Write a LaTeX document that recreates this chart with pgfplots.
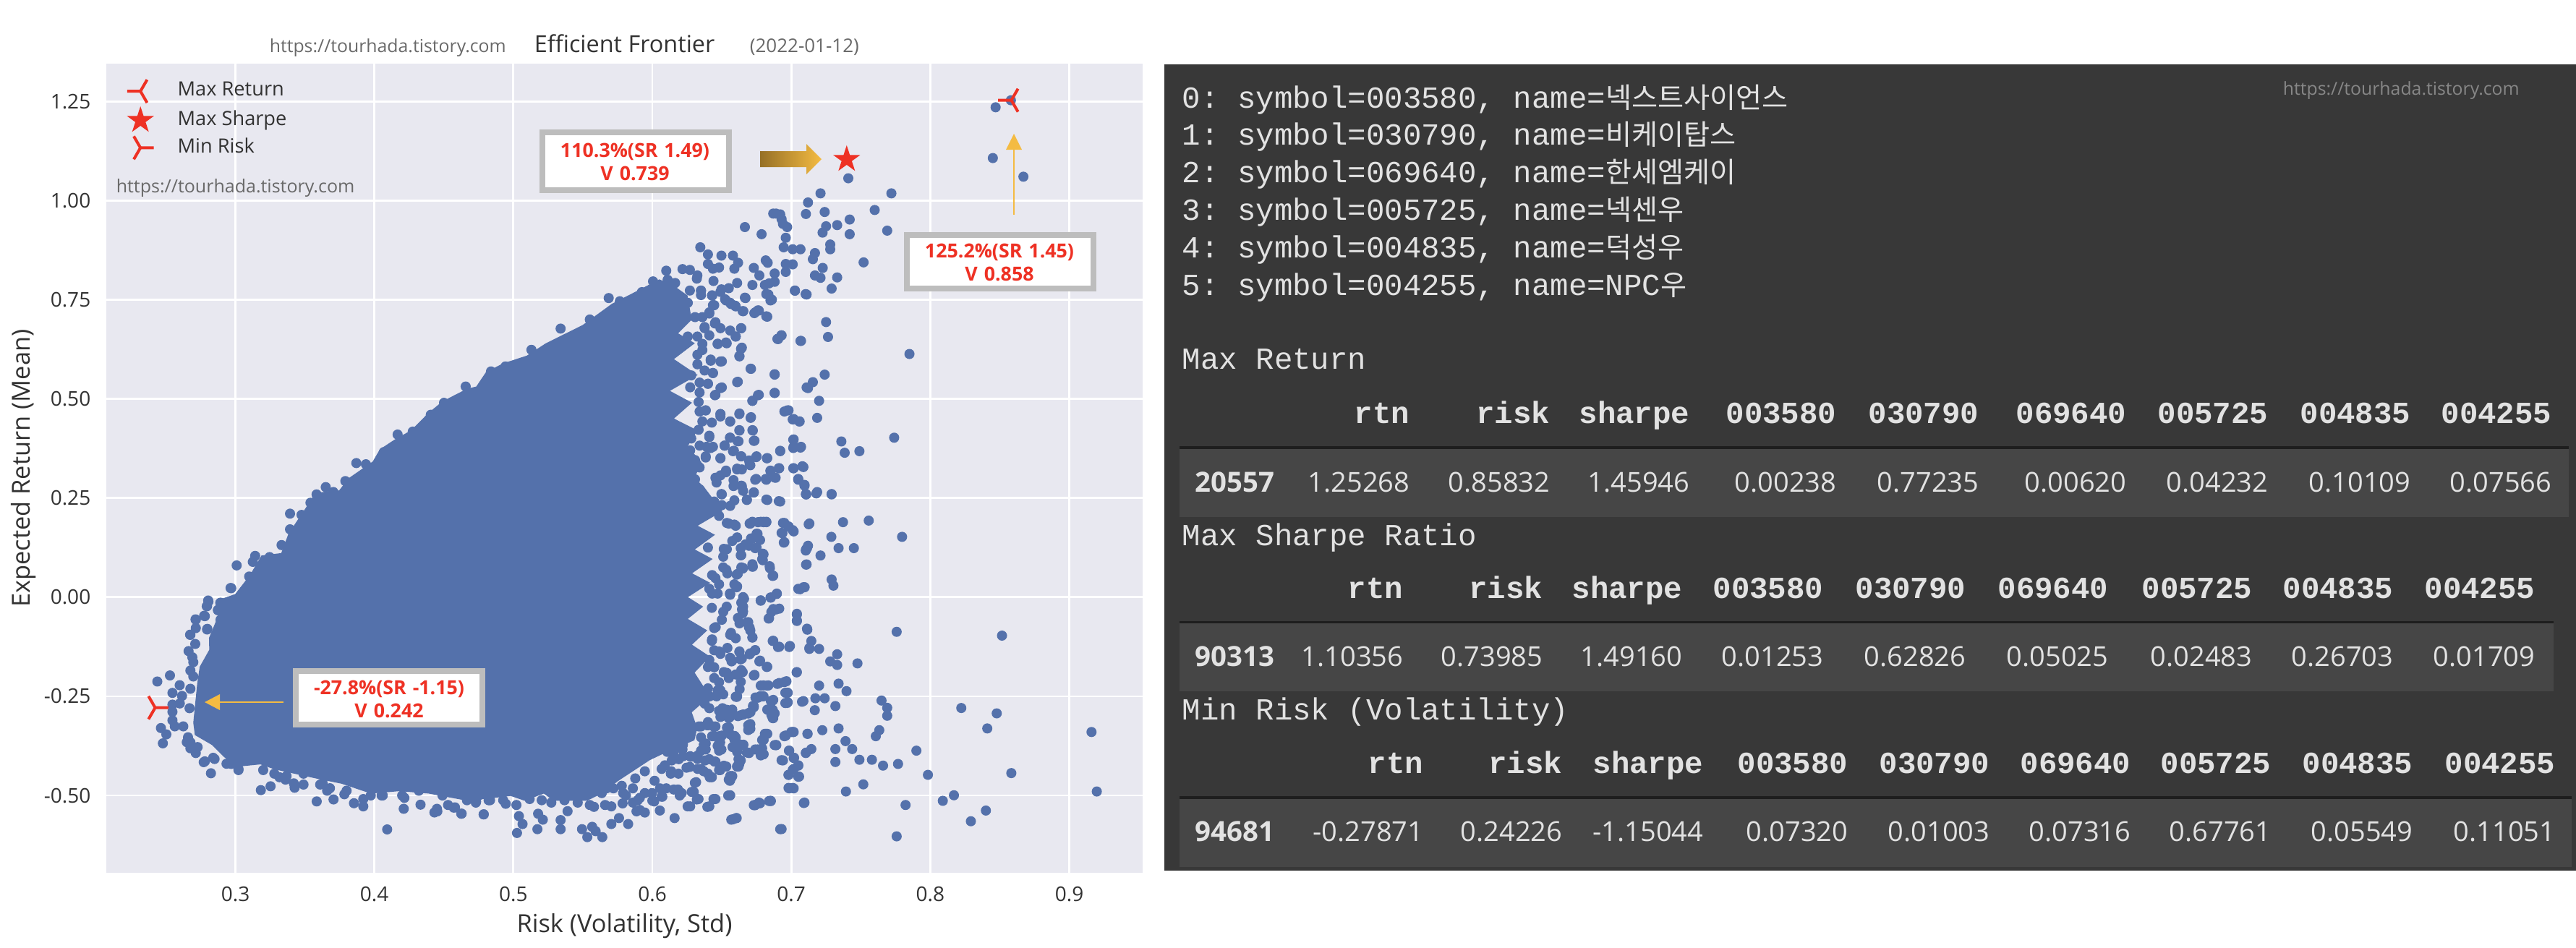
\documentclass[border=0pt]{standalone}
\usepackage{fontspec}
\usepackage{pgfplots}
\pgfplotsset{compat=1.18}
\usetikzlibrary{plotmarks}
\setmainfont{Open Sans}
\setmonofont{Liberation Mono}
\newfontfamily\kr{Noto Sans CJK KR}

\definecolor{blob}{RGB}{84,113,171}
\definecolor{panelbg}{RGB}{232,232,240}
\definecolor{mred}{RGB}{238,49,36}
\definecolor{boxgrey}{RGB}{189,189,189}
\definecolor{arrowy}{RGB}{244,187,66}
\definecolor{arrowd}{RGB}{150,112,38}
\definecolor{dark}{RGB}{56,56,56}
\definecolor{band}{RGB}{70,70,70}
\definecolor{rulec}{RGB}{30,30,30}
\definecolor{ltxt}{RGB}{226,226,226}
\definecolor{axtxt}{RGB}{50,50,50}
\definecolor{wm}{RGB}{105,105,105}

% matplotlib's tri_left and tri_right, and a filled star
\pgfdeclareplotmark{tril}{%
  \pgfpathmoveto{\pgfqpoint{0pt}{0pt}}\pgfpathlineto{\pgfpointpolar{180}{4.6pt}}
  \pgfpathmoveto{\pgfqpoint{0pt}{0pt}}\pgfpathlineto{\pgfpointpolar{60}{4.6pt}}
  \pgfpathmoveto{\pgfqpoint{0pt}{0pt}}\pgfpathlineto{\pgfpointpolar{-60}{4.6pt}}
  \pgfusepathqstroke}
\pgfdeclareplotmark{trir}{%
  \pgfpathmoveto{\pgfqpoint{0pt}{0pt}}\pgfpathlineto{\pgfpointpolar{0}{4.6pt}}
  \pgfpathmoveto{\pgfqpoint{0pt}{0pt}}\pgfpathlineto{\pgfpointpolar{120}{4.6pt}}
  \pgfpathmoveto{\pgfqpoint{0pt}{0pt}}\pgfpathlineto{\pgfpointpolar{240}{4.6pt}}
  \pgfusepathqstroke}
\pgfdeclareplotmark{fstar}{%
  \pgfpathmoveto{\pgfpointpolar{90}{4.9pt}}
  \pgfpathlineto{\pgfpointpolar{126}{1.87pt}}\pgfpathlineto{\pgfpointpolar{162}{4.9pt}}
  \pgfpathlineto{\pgfpointpolar{198}{1.87pt}}\pgfpathlineto{\pgfpointpolar{234}{4.9pt}}
  \pgfpathlineto{\pgfpointpolar{270}{1.87pt}}\pgfpathlineto{\pgfpointpolar{306}{4.9pt}}
  \pgfpathlineto{\pgfpointpolar{342}{1.87pt}}\pgfpathlineto{\pgfpointpolar{18}{4.9pt}}
  \pgfpathlineto{\pgfpointpolar{54}{1.87pt}}\pgfpathclose
  \pgfusepathqfill}

\newcommand{\annbox}[9]{% outer l,t,r,b, centre x, y1, y2, two lines
  \fill[boxgrey] (#1,#2) rectangle (#3,#4);
  \fill[white] (#1+8,#2+8) rectangle (#3-8,#4-8);
  \node[text=mred,font=\fontsize{6.7pt}{8pt}\selectfont\bfseries,inner sep=0pt] at (#5,#6) {#8};
  \node[text=mred,font=\fontsize{6.7pt}{8pt}\selectfont\bfseries,inner sep=0pt] at (#5,#7) {#9};
}
\newcommand{\krs}[1]{{\kr\fontsize{9.8pt}{12pt}\selectfont #1}}

\begin{document}
\begin{tikzpicture}
\path[use as bounding box] (0,0) rectangle (890.5pt,-327.5pt);

\begin{axis}[
  at={(36.75pt,-301.75pt)}, anchor=south west,
  scale only axis, width=358.25pt, height=279.75pt,
  xmin=0.2071, xmax=0.9528, ymin=-0.695, ymax=1.345,
  axis background/.style={fill=panelbg},
  axis line style={draw=none},
  major tick length=0pt,
  grid=major,
  grid style={white,line width=0.7pt},
  xtick={0.3,0.4,0.5,0.6,0.7,0.8,0.9},
  xticklabels={0.3,0.4,0.5,0.6,0.7,0.8,0.9},
  ytick={-0.5,-0.25,0,0.25,0.5,0.75,1,1.25},
  yticklabels={-0.50,-0.25,0.00,0.25,0.50,0.75,1.00,1.25},
  tick label style={font=\fontsize{7pt}{8pt}\selectfont,text=axtxt},
  xticklabel style={yshift=-1.3pt},
  yticklabel style={xshift=-1.9pt},
  xlabel={Risk (Volatility, Std)},
  ylabel={Expected Return (Mean)},
  label style={font=\fontsize{8.6pt}{10pt}\selectfont,text=axtxt},
  xlabel style={yshift=2.8pt},
  ylabel style={yshift=-4.2pt},
  legend style={draw=none,fill=none,at={(axis description cs:0.011,0.988)},anchor=north west,
    font=\fontsize{6.8pt}{8pt}\selectfont,text=axtxt,row sep=1.2pt,
    nodes={inner sep=0.8pt}},
  legend cell align=left,
  clip=true,
]
% solid part of the cloud
\addplot[fill=blob,draw=blob,line width=0.3pt,forget plot] coordinates {
 (.27,-.3166) (.2728,-.219) (.2746,-.176) (.2815,-.133) (.2813,-.103) (.29,-.03) (.29,-.0055) (.30,.0067)
 (.3107,.055) (.319,.104) (.3332,.11) (.3384,.159) (.3523,.232) (.3575,.262) (.3748,.268) (.3817,.299)
 (.399,.341) (.4042,.372) (.4146,.396) (.4268,.42) (.4389,.463) (.4493,.493) (.4666,.524) (.4735,.53)
 (.4804,.566) (.4925,.588) (.5099,.608) (.5235,.639) (.55,.685) (.571,.7385) (.5925,.777) (.605,.80)
 (.615,.785) (.625,.76) (.628,.70) (.618,.665) (.63,.64) (.615,.60) (.632,.56) (.612,.52) (.628,.49) (.615,.45)
 (.632,.42) (.625,.38) (.635,.34) (.63,.30) (.637,.277) (.65,.217) (.632,.18) (.6445,.157) (.63,.12) (.6428,.096)
 (.628,.06) (.641,.036) (.625,.0) (.636,-.024) (.625,-.055) (.639,-.084) (.628,-.12) (.641,-.15) (.63,-.19)
 (.641,-.25) (.628,-.29) (.632,-.33) (.63,-.36)
 (.61,-.39) (.598,-.41) (.575,-.463) (.5636,-.494) (.553,-.512) (.529,-.512)
 (.522,-.494) (.508,-.512) (.498,-.50) (.4839,-.506) (.4666,-.512) (.439,-.494) (.4182,-.488) (.3974,-.494)
 (.3766,-.4694) (.3593,-.457) (.3282,-.433) (.318,-.4205) (.3005,-.4267) (.292,-.402) (.2832,-.3716) (.2711,-.347)
} --cycle;
% scattered portfolios around it
\addplot[only marks,mark=*,mark size=1.55pt,color=blob,mark options={draw=none,fill=blob},forget plot] coordinates {
 (.858,1.2527) (.847,1.235) (.845,1.107) (.867,1.060)
 (.741,1.056) (.721,1.018) (.772,1.018) (.712,.995) (.7105,.966) (.724,.971) (.760,.976) (.742,.952) (.733,.938)
 (.725,.935) (.7225,.919) (.742,.915) (.769,.924) (.6666,.933) (.6786,.915) (.689,.967) (.687,.967) (.692,.965)
 (.693,.953) (.694,.941) (.697,.933) (.696,.906) (.6945,.882) (.701,.877) (.7066,.877) (.717,.8675) (.7155,.852)
 (.728,.889) (.728,.877) (.752,.844) (.7226,.830) (.733,.806) (.717,.811) (.721,.805) (.729,.778) (.7026,.773)
 (.7103,.764) (.696,.840) (.701,.839) (.696,.820) (.6816,.849) (.683,.843) (.673,.830) (.677,.811) (.688,.816)
 (.688,.795) (.684,.791) (.681,.787) (.672,.787) (.661,.792) (.682,.764) (.685,.748) (.6666,.755) (.682,.708)
 (.676,.723) (.6734,.716) (.6655,.721) (.660,.733) (.6566,.739) (.653,.748) (.6497,.776) (.655,.779) (.643,.761)
 (.6345,.882) (.640,.864) (.6497,.861) (.658,.861) (.6617,.843) (.659,.828) (.648,.831) (.6436,.828) (.640,.840)
 (.644,.797) (.632,.803) (.627,.825) (.635,.773) (.627,.773) (.5686,.754) (.61,.823) (.6217,.827) (.6005,.796)
 (.6164,.792) (.6324,.811)
 (.725,.6935) (.7264,.656) (.7066,.646) (.6928,.660) (.690,.651) (.785,.613) (.6638,.678) (.660,.657) (.653,.642)
 (.647,.639) (.645,.690) (.6638,.626) (.6626,.608) (.649,.594) (.642,.596) (.6707,.576) (.688,.561) (.724,.561)
 (.7155,.542) (.712,.527) (.661,.542) (.649,.527) (.645,.509) (.688,.515) (.676,.509) (.672,.495) (.720,.495)
 (.698,.471) (.695,.468) (.701,.448) (.7057,.443) (.7186,.452) (.6626,.4615) (.6707,.452) (.656,.443) (.649,.4615)
 (.6626,.421) (.672,.421) (.673,.394) (.656,.402) (.6614,.393) (.652,.382) (.658,.368) (.7014,.397) (.7014,.376)
 (.7066,.377) (.692,.368) (.736,.3925) (.7384,.364) (.749,.368) (.774,.402) (.6747,.353) (.6638,.355) (.6824,.350)
 (.670,.336) (.649,.350) (.708,.330) (.7014,.325) (.691,.325) (.685,.318) (.688,.3015) (.6816,.298) (.6747,.298)
 (.661,.324) (.705,.298) (.7095,.281) (.7105,.260) (.7186,.265) (.729,.260) (.673,.264) (.664,.281) (.646,.297) (.653,.315)
 (.6255,.742) (.6436,.736) (.641,.715) (.636,.706) (.6307,.706) (.6376,.678) (.6324,.657) (.6255,.657) (.641,.66)
 (.636,.6386) (.636,.623) (.6324,.611) (.6324,.587) (.6376,.5714) (.6436,.565) (.628,.559) (.634,.541) (.640,.538)
 (.6272,.529) (.634,.516) (.6333,.492) (.634,.468) (.6384,.471) (.6428,.44) (.636,.443) (.6333,.422) (.641,.4035)
 (.628,.40) (.642,.376) (.634,.382) (.6272,.37) (.6384,.352) (.634,.327) (.6307,.3455) (.6307,.297) (.634,.272)
 (.6272,.309) (.6497,.26)
 (.7797,.152) (.7557,.193) (.7372,.189) (.7288,.152) (.734,.1236) (.745,.1236) (.721,.105) (.7106,.1205) (.712,.1296)
 (.7106,.082) (.729,.0445) (.7303,.029) (.7063,.020) (.7096,.025) (.713,.1856) (.7106,.259) (.718,.2615) (.729,.259)
 (.691,.242) (.682,.246) (.668,.246) (.680,.189) (.676,.189) (.682,.189) (.670,.1856) (.694,.187) (.701,.169) (.698,.178)
 (.693,.162) (.6946,.1375) (.675,.160) (.671,.148) (.674,.1236) (.6795,.1096) (.6795,.093) (.6846,.073) (.6865,.0536)
 (.672,.0768) (.665,.072) (.6607,.0567) (.6607,.025) (.656,.006) (.666,-.004) (.678,-.009) (.685,-.001) (.6894,.008)
 (.6645,-.031) (.665,-.0405) (.689,-.031) (.6856,-.0375) (.6837,-.054) (.704,-.0436) (.704,-.059) (.7115,-.082)
 (.7758,-.0874) (.8516,-.097) (.668,-.0637) (.670,-.077) (.672,-.1013) (.6866,-.1105) (.6904,-.1257) (.6985,-.1257)
 (.7144,-.1105) (.713,-.1305) (.72,-.1305) (.733,-.144) (.728,-.162) (.733,-.171) (.7476,-.167) (.674,-.1336) (.670,-.144)
 (.6626,-.138) (.6635,-.157) (.677,-.162) (.6823,-.176) (.657,-.162) (.7038,-.1895) (.673,-.1975) (.695,-.214) (.690,-.2187)
 (.6827,-.223) (.678,-.223) (.72,-.223) (.734,-.218) (.7397,-.237) (.697,-.241) (.697,-.2667) (.676,-.2535) (.68,-.250)
 (.6866,-.2607) (.7173,-.255) (.724,-.255) (.7077,-.2637) (.7317,-.2746) (.7169,-.285) (.7649,-.2607) (.769,-.279)
 (.769,-.299) (.8223,-.2795) (.8478,-.293) (.841,-.331) (.916,-.340) (.7633,-.3354) (.7608,-.3506) (.734,-.331)
 (.7223,-.3354) (.7117,-.3446) (.701,-.340) (.6956,-.3495) (.682,-.3446) (.68,-.3597) (.689,-.373) (.6655,-.372)
 (.739,-.363) (.7317,-.383) (.7438,-.383) (.7144,-.383) (.7106,-.392) (.6985,-.387) (.702,-.405) (.790,-.387)
 (.7317,-.4156) (.749,-.410) (.758,-.410) (.766,-.4247) (.7768,-.4205) (.693,-.411) (.705,-.4247) (.701,-.4356)
 (.698,-.448) (.705,-.4527) (.7983,-.448) (.8583,-.4436) (.7518,-.472) (.7393,-.490) (.9198,-.490) (.701,-.481)
 (.698,-.481) (.817,-.4995) (.809,-.5135) (.7822,-.524) (.840,-.538) (.8292,-.565) (.7758,-.603) (.709,-.519)
 (.685,-.5135) (.677,-.5196) (.674,-.524) (.6607,-.557) (.658,-.560) (.693,-.5846) (.656,-.4995) (.657,-.454) (.656,-.461)
 (.6626,-.4205) (.661,-.4266) (.68,-.396) (.676,-.385) (.669,-.392) (.66,-.354) (.66,-.375) (.670,-.323) (.670,-.332)
 (.655,-.329) (.6866,-.284) (.6856,-.296) (.6866,-.305) (.673,-.2746) (.6655,-.296) (.669,-.293) (.657,-.287) (.655,-.305)
 (.6607,-.2515)
 (.6536,.187) (.659,.183) (.672,.19) (.68,.19) (.640,.125) (.6536,.121) (.667,.133) (.6775,.144) (.651,.102) (.664,.106)
 (.651,.075) (.664,.075) (.672,.083) (.643,.0556) (.648,.0324) (.659,.0324) (.656,.009) (.643,.009) (.664,-.014) (.651,-.037)
 (.6616,-.0525) (.6456,-.0756) (.656,-.095) (.6695,-.0756) (.643,-.1065) (.648,-.137) (.656,-.153) (.640,-.176) (.6536,-.191)
 (.664,-.184) (.648,-.2145) (.640,-.23) (.651,-.245) (.6377,-.2685) (.6536,-.284) (.6616,-.30) (.640,-.315) (.656,-.3457)
 (.648,-.369) (.635,-.3534) (.6217,-.384) (.6324,-.4074)
 (.4625,-.546) (.4786,-.5476) (.4453,-.54) (.4945,-.521) (.504,-.552) (.5066,-.572) (.5026,-.5945) (.5173,-.585) (.5212,-.561)
 (.5178,-.546) (.5273,-.518) (.534,-.562) (.534,-.585) (.539,-.5396) (.5494,-.585) (.5532,-.605) (.5567,-.579) (.5592,-.59)
 (.564,-.605) (.5705,-.572) (.576,-.557) (.5826,-.572) (.566,-.524) (.5705,-.5275) (.5786,-.52) (.558,-.5287) (.5886,-.54)
 (.5946,-.543) (.6,-.513) (.6054,-.538) (.616,-.557) (.6254,-.5275) (.632,-.510) (.6396,-.5287) (.644,-.509) (.6546,-.50)
 (.6568,-.561) (.6603,-.557) (.673,-.5245) (.6767,-.518) (.684,-.514) (.692,-.585) (.6283,-.491) (.6306,-.468) (.6413,-.454)
 (.637,-.439) (.6326,-.433) (.627,-.428) (.648,-.436) (.6515,-.425) (.655,-.46) (.656,-.451) (.661,-.427) (.662,-.4085)
 (.668,-.3915) (.674,-.384) (.678,-.399) (.679,-.381) (.679,-.36) (.681,-.3445) (.688,-.373) (.695,-.3506) (.70,-.34) (.6985,-.482)
 (.6275,-.4024) (.6326,-.3994) (.638,-.4116) (.6447,-.4146) (.637,-.372) (.635,-.387) (.643,-.3506) (.648,-.3506) (.647,-.375)
 (.648,-.387) (.6585,-.3537) (.6577,-.378) (.6637,-.372) (.6154,-.39) (.619,-.4085) (.622,-.372) (.648,-.2866) (.655,-.2866)
 (.649,-.302) (.6537,-.329) (.6335,-.326) (.6396,-.323) (.644,-.326) (.6637,-.2976) (.6706,-.29) (.6724,-.2744) (.669,-.323)
 (.669,-.335) (.6742,-.253) (.679,-.25) (.6853,-.262) (.6827,-.2835) (.686,-.299) (.6957,-.241) (.6957,-.267) (.66,-.251)
 (.6413,-.25) (.649,-.235) (.6628,-.232) (.6067,-.503) (.6197,-.50) (.6154,-.485) (.610,-.482) (.6016,-.463) (.5946,-.439)
 (.6136,-.439) (.6188,-.445) (.6067,-.433) (.591,-.5366) (.586,-.518) (.572,-.482) (.578,-.4756) (.581,-.50) (.5877,-.457)
 (.586,-.482) (.5895,-.512)
 (.2438,-.2127) (.2529,-.1974) (.2599,-.222) (.2547,-.2414) (.2547,-.271) (.2547,-.289) (.2547,-.3105) (.2564,-.3258) (.2625,-.3258)
 (.2464,-.33) (.2503,-.346) (.2478,-.3686) (.2659,-.3533) (.265,-.3655) (.2676,-.381) (.2715,-.393) (.2772,-.416) (.2824,-.444)
 (.284,-.405) (.2806,-.011) (.2794,-.023) (.278,-.048) (.2715,-.057) (.2715,-.078) (.2676,-.095) (.2798,-.08) (.2711,-.118)
 (.2663,-.136) (.269,-.1516) (.2697,-.164) (.2676,-.185) (.2697,-.2) (.297,.0226) (.2893,-.014) (.2875,-.032) (.2893,-.057)
 (.2676,-.231) (.2616,-.249) (.26,-.268) (.267,-.28) (.3183,-.4866) (.3253,-.4768) (.3022,-.436) (.297,-.4205) (.32,-.436)
 (.3317,-.454) (.336,-.46) (.3426,-.4804) (.342,-.4694) (.349,-.4725) (.3585,-.515) (.3706,-.51) (.361,-.4725) (.366,-.488)
 (.3784,-.497) (.3853,-.5196) (.392,-.5275) (.392,-.509) (.4052,-.50) (.4092,-.5856) (.4211,-.5336) (.4332,-.5232) (.4432,-.5428)
 (.445,-.5336) (.4571,-.5306) (.4628,-.5458) (.4732,-.5153) (.4787,-.5477) (.4822,-.512) (.4216,-.506)
 (.387,.338) (.365,.2774) (.3393,.2105) (.3332,.1313) (.3142,.104) (.3125,.089) (.3009,.08) (.2965,.023) (.4657,.531) (.4167,.4099)
 (.4068,.3656) (.3476,.2074) (.2804,-.0085) (.2796,-.0225) (.2775,-.047) (.2713,-.056) (.2796,-.0815) (.2674,-.0947)
 (.667,.754) (.6835,.763) (.686,.75) (.7026,.7726) (.711,.763) (.6523,.751) (.656,.742) (.6595,.735) (.665,.721) (.674,.718)
 (.6766,.7225) (.6827,.707) (.6445,.736) (.641,.718) (.6246,.742) (.635,.7726) (.635,.7616) (.643,.76) (.649,.7695) (.6454,.693)
 (.6376,.681) (.649,.678) (.656,.672) (.664,.678) (.66,.657) (.693,.66) (.6905,.6506) (.707,.646) (.647,.638) (.6535,.64)
 (.6644,.629) (.6627,.607) (.642,.599) (.65,.5945) (.671,.5756) (.688,.562) (.6615,.543) (.6436,.565) (.640,.538) (.65,.5287)
 (.6454,.510) (.6766,.510) (.672,.495) (.688,.5146) (.711,.5287) (.649,.4616) (.649,.4555) (.6384,.4707) (.6627,.463) (.671,.4537)
 (.656,.443) (.697,.4707) (.7017,.449) (.706,.443) (.6627,.42) (.6723,.42) (.6735,.3945) (.6558,.402) (.662,.393) (.652,.382)
 (.641,.407) (.639,.379) (.6436,.379) (.7017,.3975) (.7017,.379) (.707,.379) (.692,.369) (.6587,.369) (.664,.355) (.675,.355)
 (.649,.3506) (.6384,.355) (.6827,.3506) (.6696,.3445)
 (.6705,.3325) (.661,.322) (.6644,.322) (.653,.319) (.6454,.301) (.649,.307) (.6462,.289) (.6584,.295) (.6584,.28) (.6644,.28)
 (.6653,.268) (.674,.296) (.682,.296) (.6887,.301) (.685,.319) (.6913,.325) (.7017,.325) (.7087,.328) (.705,.296) (.7095,.283)
 (.7107,.259) (.673,.264) (.668,.245) (.6827,.245) (.692,.241) (.65,.259) (.6445,.241) (.659,.244) (.656,.23) (.65,.232)
 (.648,.205) (.655,.1855) (.66,.18) (.6705,.1855) (.678,.19) (.682,.19) (.695,.187) (.7017,.1657) (.698,.178) (.6936,.1614)
 (.695,.1386) (.7125,.1837) (.6757,.1596) (.672,.1476) (.661,.1506) (.6575,.1416) (.6514,.1217) (.6636,.1235) (.6636,.1054)
 (.6696,.1295) (.675,.1247) (.7113,.1235) (.7104,.1175) (.68,.108) (.679,.096) (.6844,.078) (.687,.054) (.711,.0825) (.6723,.077)
 (.6653,.0735) (.6615,.059) (.6532,.069) (.654,.06) (.6454,.048) (.661,.027) (.6558,.009) (.6653,0) (.6896,.009) (.6853,-.001)
 (.678,-.008) (.7087,.025) (.705,.021) (.641,.021) (.647,.009) (.6535,-.024) (.6653,-.024) (.6653,-.036) (.6428,-.027)
 (.6913,-.029) (.687,-.03) (.684,-.053) (.704,-.042) (.704,-.06) (.7113,-.0795) (.65,-.057) (.6445,-.078) (.6627,-.066)
 (.669,-.063) (.6705,-.084) (.6566,-.09)
 (.6428,-.11) (.66,-.1036) (.672,-.102) (.687,-.11) (.6913,-.125) (.699,-.123) (.713,-.128) (.6445,-.134) (.654,-.128) (.649,-.143)
 (.6627,-.137) (.6644,-.155) (.6575,-.16) (.674,-.134) (.6705,-.1415) (.6775,-.16) (.6827,-.1756) (.641,-.1585) (.6445,-.177)
 (.6445,-.204) (.704,-.189) (.6735,-.196) (.66,-.195) (.665,-.189) (.6636,-.2134) (.655,-.204) (.6514,-.189) (.68,-.2226)
 (.6835,-.2226) (.6913,-.2165) (.6965,-.212) (.6974,-.241) (.6974,-.265) (.687,-.259) (.7087,-.262) (.6775,-.25) (.661,-.25)
 (.647,-.235) (.6462,-.25) (.6505,-.28) (.6575,-.2835) (.6505,-.299) (.6558,-.302) (.641,-.28) (.673,-.2775) (.669,-.293)
 (.6653,-.296) (.6853,-.2805) (.688,-.293) (.687,-.305) (.6705,-.32) (.6705,-.332) (.655,-.329) (.6454,-.326) (.640,-.323)
 (.635,-.326) (.6445,-.35) (.65,-.349) (.6592,-.35) (.6592,-.36) (.7017,-.34) (.696,-.349) (.6827,-.3445) (.68,-.36) (.7116,-.3445)
 (.6892,-.373) (.6653,-.373) (.6488,-.366) (.6497,-.384) (.6384,-.369) (.6384,-.384) (.661,-.39) (.6696,-.393) (.6757,-.384)
 (.68,-.396) (.6167,-.372) (.6107,-.39) (.614,-.4116) (.6222,-.401) (.6272,-.401) (.641,-.4085) (.6454,-.4146) (.6983,-.387)
 (.7017,-.4055) (.694,-.4116) (.705,-.424) (.7017,-.433) (.698,-.448) (.7056,-.4524) (.7104,-.393) (.6636,-.4116) (.662,-.427)
 (.6532,-.427) (.6488,-.436) (.6246,-.43) (.635,-.433) (.640,-.445) (.6428,-.454) (.6575,-.451) (.6558,-.463) (.6315,-.4665)
 (.7017,-.482) (.6558,-.5) (.6133,-.445) (.609,-.424) (.6055,-.482) (.6185,-.485) (.6298,-.491) (.6211,-.494) (.6072,-.503)
 (.6013,-.515) (.6454,-.509) (.6332,-.509) (.6272,-.5275) (.641,-.5275) (.6853,-.514) (.6775,-.5195) (.674,-.5244) (.7095,-.518)
 (.453,-.524) (.458,-.53) (.473,-.518) (.4832,-.512) (.4927,-.512) (.5022,-.524) (.5117,-.509) (.5204,-.512) (.5368,-.512)
 (.5463,-.518) (.555,-.524) (.5636,-.494) (.567,-.482) (.579,-.494) (.591,-.506) (.5946,-.494) (.5998,-.494)
 (.328,-.445) (.3368,-.451) (.349,-.445) (.3628,-.4694) (.368,-.4817) (.38,-.488) (.3974,-.50) (.406,-.50) (.42,-.50) (.432,-.488)
 (.449,-.50) (.4666,-.512) (.475,-.50) (.3022,-.433) (.2936,-.42) (.285,-.408) (.278,-.414) (.2728,-.378) (.2676,-.366)
 (.4839,.569) (.4943,.5815) (.5055,.5846) (.4501,.490) (.4406,.4598) (.4276,.4173) (.3939,.335) (.3791,.2926) (.3705,.265)
 (.3584,.259) (.354,.238) (.3393,.171) (.3246,.101) (.3099,.052) (.2891,-.0146) (.2874,-.033)
 (.481,.547) (.513,.6235) (.534,.677) (.555,.70) (.5766,.746) (.5925,.769) (.611,.80)
};
% the three picked portfolios
\addplot[only marks,mark=tril,color=mred,mark options={line width=1pt}] coordinates {(.85832,1.25268)};
\addlegendentry{\hspace*{7.4pt}Max Return}
\addplot[only marks,mark=fstar,color=mred] coordinates {(.73985,1.10356)};
\addlegendentry{\hspace*{7.4pt}Max Sharpe}
\addplot[only marks,mark=trir,color=mred,mark options={line width=1pt}] coordinates {(.24226,-.27871)};
\addlegendentry{\hspace*{7.4pt}Min Risk}
\end{axis}

\begin{scope}[x=0.25pt,y=-0.25pt]
% title line and watermarks
\node[text=wm,font=\fontsize{6.2pt}{8pt}\selectfont,inner sep=0pt,anchor=base west] at (372,72) {https://tourhada.tistory.com};
\node[text=axtxt,font=\fontsize{8.1pt}{9pt}\selectfont,inner sep=0pt,anchor=base west] at (738,72) {Efficient Frontier};
\node[text=wm,font=\fontsize{6.5pt}{8pt}\selectfont,inner sep=0pt,anchor=base west] at (1036,72) {(2022-01-12)};
\node[text=wm,font=\fontsize{6.25pt}{8pt}\selectfont,inner sep=0pt,anchor=base west] at (160,266) {https://tourhada.tistory.com};

% callouts
\annbox{746}{179}{1012}{267}{878}{210}{240}{110.3\%(SR\,\,1.49)}{V\,\,0.739}
\annbox{1250}{321}{1516}{403}{1382}{349}{379}{125.2\%(SR\,\,1.45)}{V\,\,0.858}
\annbox{405}{924}{671}{1006}{538}{953}{983}{-27.8\%(SR\,\,-1.15)}{V\,\,0.242}

% arrows
\shade[left color=arrowd,right color=arrowy,draw=none]
  (1051,209) -- (1115,209) -- (1115,199) -- (1136,220) -- (1115,241) -- (1115,231) -- (1051,231) -- cycle;
\draw[arrowy,line width=0.5pt] (1402,297) -- (1402,207);
\fill[arrowy] (1391,207) -- (1402,185) -- (1413,207) -- cycle;
\draw[arrowy,line width=0.5pt] (392,971) -- (304,971);
\fill[arrowy] (304,960) -- (283,971) -- (304,982) -- cycle;

% right-hand output panel
\fill[dark] (1610,89) rectangle (3562,1204);
\fill[band] (1631,621) rectangle (3552,715);
\fill[band] (1631,862) rectangle (3531,956);
\fill[band] (1631,1105) rectangle (3556,1199);
\fill[rulec] (1631,617) rectangle (3552,621);
\fill[rulec] (1631,859) rectangle (3531,862);
\fill[rulec] (1631,1101) rectangle (3556,1105);

\node[text=wm!80!white,font=\fontsize{6.2pt}{8pt}\selectfont,inner sep=0pt,anchor=base west] at (3156,131) {https://tourhada.tistory.com};

\tikzset{mono/.style={text=ltxt,font=\fontsize{10.6pt}{12pt}\selectfont\ttfamily,inner sep=0pt,anchor=base west},
  head/.style={text=ltxt,font=\fontsize{10.6pt}{12pt}\selectfont\ttfamily\bfseries,inner sep=0pt,anchor=base east},
  val/.style={text=ltxt,font=\fontsize{9.5pt}{11pt}\selectfont,inner sep=0pt,anchor=base east},
  idx/.style={text=ltxt,font=\fontsize{9.6pt}{11pt}\selectfont\bfseries,inner sep=0pt,anchor=base west}}

\node[mono] at (1634,149) {0: symbol=003580, name=\krs{넥스트사이언스}};
\node[mono] at (1634,200) {1: symbol=030790, name=\krs{비케이탑스}};
\node[mono] at (1634,252) {2: symbol=069640, name=\krs{한세엠케이}};
\node[mono] at (1634,304) {3: symbol=005725, name=\krs{넥센우}};
\node[mono] at (1634,356) {4: symbol=004835, name=\krs{덕성우}};
\node[mono] at (1634,408) {5: symbol=004255, name=NPC\krs{우}};

\node[mono] at (1634,510) {Max Return};
\foreach \xx/\t in {1950/rtn,2144/risk,2337/sharpe,2540/003580,2737/030790,2941/069640,3137/005725,3334/004835,3529/004255}
  \node[head] at (\xx,585) {\t};
\node[idx] at (1652,680) {20557};
\foreach \xx/\t in {1950/1.25268,2144/0.85832,2337/1.45946,2540/0.00238,2737/0.77235,2941/0.00620,3137/0.04232,3334/0.10109,3529/0.07566}
  \node[val] at (\xx,680) {\t};

\node[mono] at (1634,754) {Max Sharpe Ratio};
\foreach \xx/\t in {1941/rtn,2134/risk,2327/sharpe,2522/003580,2719/030790,2916/069640,3115/005725,3310/004835,3506/004255}
  \node[head] at (\xx,827) {\t};
\node[idx] at (1652,921) {90313};
\foreach \xx/\t in {1941/1.10356,2134/0.73985,2327/1.49160,2522/0.01253,2719/0.62826,2916/0.05025,3115/0.02483,3310/0.26703,3506/0.01709}
  \node[val] at (\xx,921) {\t};

\node[mono] at (1634,995) {Min Risk (Volatility)};
\foreach \xx/\t in {1969/rtn,2161/risk,2356/sharpe,2556/003580,2752/030790,2947/069640,3141/005725,3337/004835,3534/004255}
  \node[head] at (\xx,1069) {\t};
\node[idx] at (1652,1163) {94681};
\foreach \xx/\t in {1969/-0.27871,2161/0.24226,2356/-1.15044,2556/0.07320,2752/0.01003,2947/0.07316,3141/0.67761,3337/0.05549,3534/0.11051}
  \node[val] at (\xx,1163) {\t};
\end{scope}
\end{tikzpicture}
\end{document}
